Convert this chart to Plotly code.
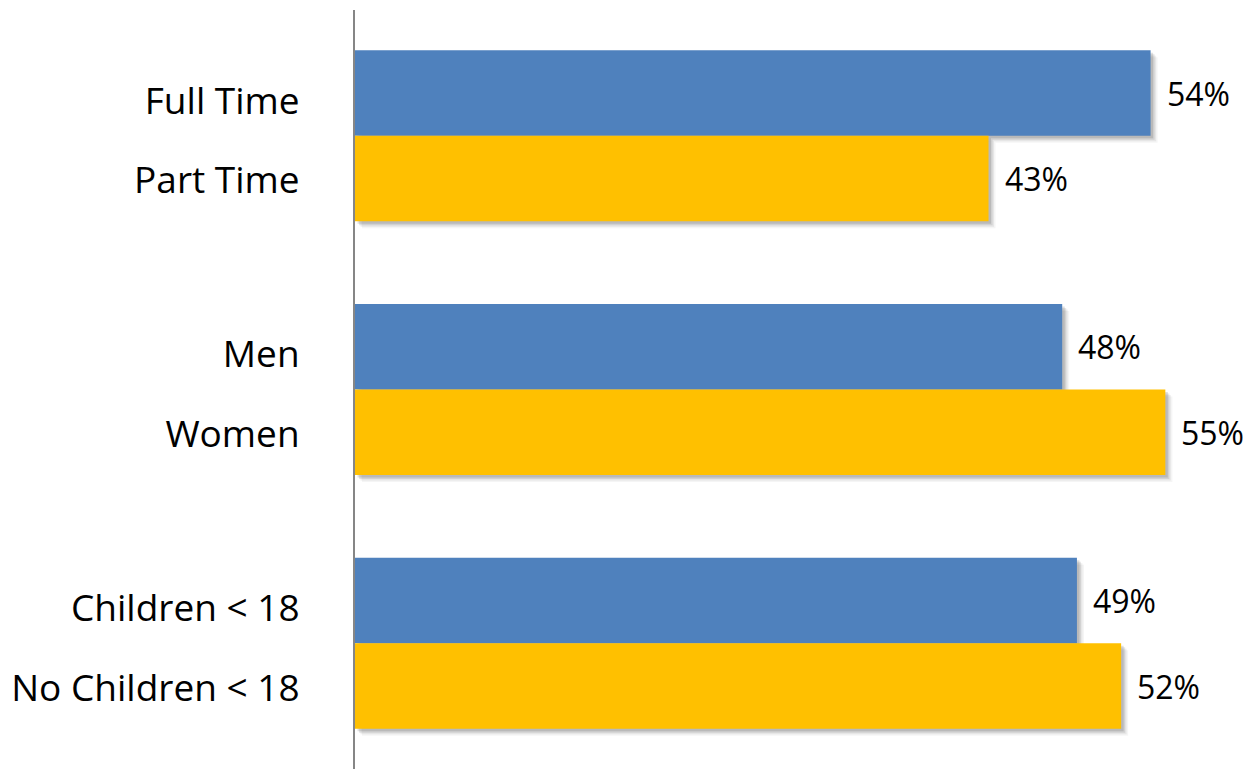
import plotly.graph_objects as go

# Data
top_labels = ["Full Time", "Men", "Children < 18"]
top_values = [54, 48, 49]
bottom_labels = ["Part Time", "Women", "No Children < 18"]
bottom_values = [43, 55, 52]

BLUE = "#4F81BD"
YELLOW = "#FFC000"
GROUP_STEP = 2.965

top_pos = [g * GROUP_STEP for g in range(len(top_labels))]
bottom_pos = [g * GROUP_STEP + 1 for g in range(len(bottom_labels))]

all_pos = top_pos + bottom_pos
all_vals = top_values + bottom_values
all_labels = top_labels + bottom_labels

# category label positions (top labels sit slightly lower, as in the original)
tick_pos = [p + 0.09 for p in top_pos] + [p + 0.02 for p in bottom_pos]

fig = go.Figure()

# soft shadow layers (offset in px converted to data units)
PX_X = 14.73
PX_Y = 85.6
for dxp, dyp, op in [(7, 7, 0.05), (5.5, 5.5, 0.08), (4, 4, 0.12), (2.5, 2.5, 0.16)]:
    fig.add_trace(go.Bar(
        orientation="h",
        y=[p + dyp / PX_Y for p in all_pos],
        x=all_vals,
        base=[dxp / PX_X] * len(all_vals),
        width=1,
        marker=dict(color="rgba(60,60,60,%s)" % op, line=dict(width=0)),
        hoverinfo="skip",
        showlegend=False,
    ))

fig.add_trace(go.Bar(
    orientation="h", y=top_pos, x=top_values, width=1,
    marker=dict(color=BLUE, line=dict(width=0)), showlegend=False,
))
fig.add_trace(go.Bar(
    orientation="h", y=bottom_pos, x=bottom_values, width=1,
    marker=dict(color=YELLOW, line=dict(width=0)), showlegend=False,
))

for p, v in zip(all_pos, all_vals):
    fig.add_annotation(
        x=v, y=p, text=f"{v}%", showarrow=False,
        xanchor="left", yanchor="middle", xshift=14,
        font=dict(family="Open Sans", size=32, color="#000000"),
    )

fig.update_layout(
    width=1249, height=769,
    margin=dict(l=355, r=10, t=10, b=0),
    barmode="overlay",
    plot_bgcolor="white", paper_bgcolor="white",
    xaxis=dict(range=[0, 60], visible=False, showgrid=False, zeroline=False),
    yaxis=dict(
        range=[7.9, -0.97],
        tickvals=tick_pos, ticktext=all_labels,
        showgrid=False, zeroline=False,
        showline=True, linecolor="#868686", linewidth=2,
        ticks="", ticklabelstandoff=46,
        tickfont=dict(family="Open Sans", size=37, color="#000000"),
    ),
    font=dict(family="Open Sans"),
)

fig.write_html("out.html")
